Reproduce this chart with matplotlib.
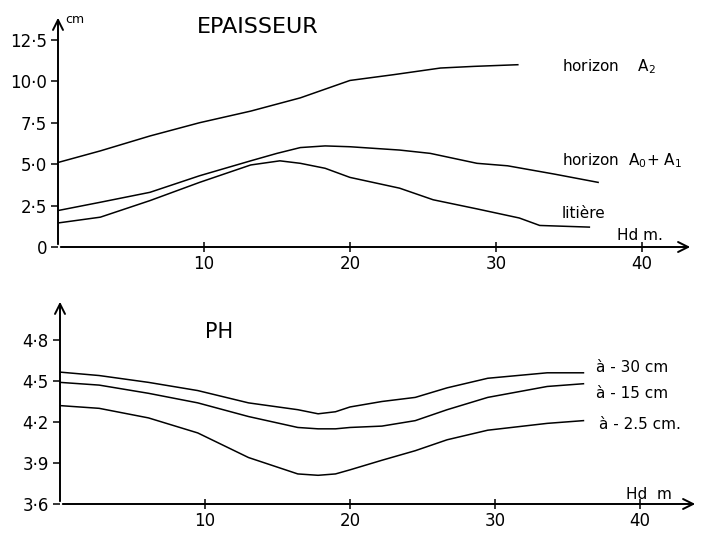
import matplotlib
matplotlib.use("Agg")
import matplotlib.pyplot as plt

plt.rcParams['font.family'] = ['DejaVu Sans']

# ---- top panel : epaisseur (cm) vs Hd (m) ----
x_a2 = [0, 2.9, 6.3, 9.7, 13.2, 16.6, 20.0, 23.0, 26.2, 28.5, 31.5]
y_a2 = [5.1, 5.8, 6.7, 7.5, 8.2, 9.0, 10.05, 10.4, 10.8, 10.9, 11.0]

x_a01 = [0, 2.9, 6.3, 9.7, 13.2, 15.0, 16.6, 18.3, 20.0, 23.4, 25.5, 28.7, 30.8, 34.0, 37.0]
y_a01 = [2.2, 2.7, 3.3, 4.3, 5.2, 5.65, 6.0, 6.1, 6.05, 5.85, 5.65, 5.05, 4.9, 4.4, 3.9]

x_lit = [0, 2.9, 6.3, 9.7, 13.2, 15.2, 16.6, 18.3, 20.0, 23.4, 25.7, 28.7, 31.6, 33.0, 36.4]
y_lit = [1.45, 1.8, 2.8, 3.9, 4.95, 5.2, 5.05, 4.75, 4.2, 3.55, 2.85, 2.3, 1.75, 1.3, 1.2]

ep_ticks = [0, 2.5, 5.0, 7.5, 10.0, 12.5]
ep_labels = ['0', '2·5', '5·0', '7·5', '10·0', '12·5']

# ---- bottom panel : pH vs Hd (m) ----
x_ph = [0, 2.7, 6.1, 9.5, 13.0, 16.4, 17.8, 19.0, 20.0, 22.2, 24.5, 26.7, 29.5, 33.6, 36.1]
ph_30 = [4.565, 4.54, 4.49, 4.43, 4.34, 4.29, 4.26, 4.275, 4.31, 4.35, 4.38, 4.45, 4.52, 4.56, 4.56]
ph_15 = [4.49, 4.47, 4.41, 4.34, 4.24, 4.16, 4.15, 4.15, 4.16, 4.17, 4.21, 4.29, 4.38, 4.46, 4.48]
ph_25 = [4.32, 4.30, 4.23, 4.12, 3.94, 3.82, 3.81, 3.82, 3.85, 3.92, 3.99, 4.07, 4.14, 4.19, 4.21]

ph_ticks = [3.6, 3.9, 4.2, 4.5, 4.8]
ph_labels = ['3·6', '3·9', '4·2', '4·5', '4·8']

x_ticks = [10, 20, 30, 40]

fig = plt.figure(figsize=(7.05, 5.35), dpi=100)
ax1 = fig.add_axes([58 / 705, 288 / 535, 635 / 705, 232 / 535])
ax2 = fig.add_axes([60 / 705, 31 / 535, 638 / 705, 205 / 535])


def style_axis(ax):
    for s in ['top', 'right', 'left', 'bottom']:
        ax.spines[s].set_visible(False)
    arrow = dict(arrowstyle='->', lw=1.4, color='black', mutation_scale=18)
    ax.annotate('', xy=(1, 0), xytext=(0, 0), xycoords='axes fraction',
                arrowprops=arrow)
    ax.annotate('', xy=(0, 1), xytext=(0, 0), xycoords='axes fraction',
                arrowprops=arrow)
    ax.set_xticks(x_ticks)
    ax.set_xticklabels([str(t) for t in x_ticks])
    ax.tick_params(axis='x', direction='inout', length=7, width=1.1,
                   labelsize=12, pad=2)
    ax.tick_params(axis='y', direction='out', length=5, width=1.1,
                   labelsize=12, pad=3)


# top
ax1.plot(x_a2, y_a2, color='black', lw=1.1)
ax1.plot(x_a01, y_a01, color='black', lw=1.1)
ax1.plot(x_lit, y_lit, color='black', lw=1.1)
ax1.set_xlim(0, 43.5)
ax1.set_ylim(0, 14)
style_axis(ax1)
ax1.set_yticks(ep_ticks)
ax1.set_yticklabels(ep_labels)
ax1.text(0.5, 13.7, 'cm', fontsize=9, ha='left', va='center')
ax1.text(9.5, 13.25, 'EPAISSEUR', fontsize=16, ha='left', va='center')
ax1.text(34.5, 10.9, 'horizon    A$_2$', fontsize=11, ha='left', va='center')
ax1.text(34.5, 5.2, 'horizon  A$_0$+ A$_1$', fontsize=11, ha='left', va='center')
ax1.text(34.5, 2.05, 'litière', fontsize=11, ha='left', va='center')
ax1.text(38.3, 0.7, 'Hd m.', fontsize=11, ha='left', va='center')

# bottom
ax2.plot(x_ph, ph_30, color='black', lw=1.1)
ax2.plot(x_ph, ph_15, color='black', lw=1.1)
ax2.plot(x_ph, ph_25, color='black', lw=1.1)
ax2.set_xlim(0, 44)
ax2.set_ylim(3.6, 5.1)
style_axis(ax2)
ax2.set_yticks(ph_ticks)
ax2.set_yticklabels(ph_labels)
ax2.text(10.0, 4.86, 'PH', fontsize=15, ha='left', va='center')
ax2.text(37.0, 4.60, 'à - 30 cm', fontsize=11, ha='left', va='center')
ax2.text(37.0, 4.41, 'à - 15 cm', fontsize=11, ha='left', va='center')
ax2.text(37.2, 4.185, 'à - 2.5 cm.', fontsize=11, ha='left', va='center')
ax2.text(39.0, 3.67, 'Hd  m', fontsize=11, ha='left', va='center')

fig.savefig('out.png', dpi=100)
